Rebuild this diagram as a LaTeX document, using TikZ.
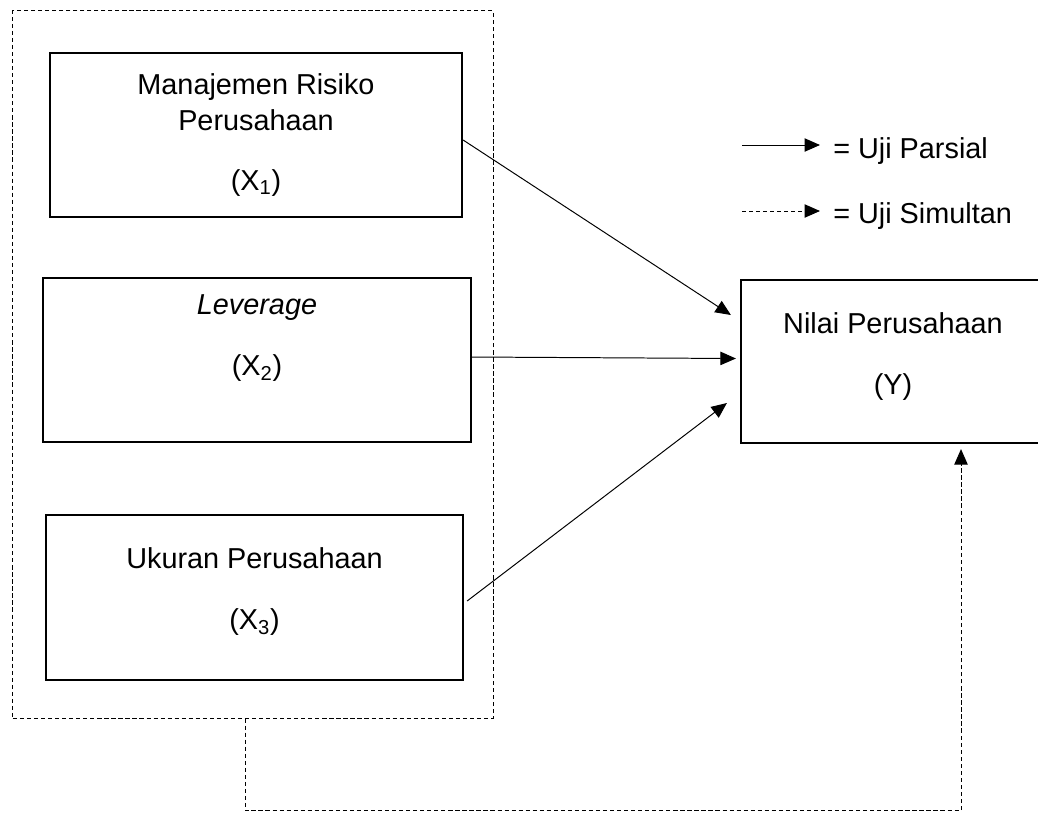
\documentclass[tikz,border=0pt]{standalone}
\usepackage{fontspec}
\setmainfont{Liberation Sans}
\usetikzlibrary{arrows.meta,calc}

\tikzset{
  varbox/.style={draw, line width=1.5pt, align=center, inner sep=0pt,
    font=\fontsize{20.5}{25.5}\selectfont},
  grpbox/.style={draw, line width=0.7pt, dash pattern=on 3pt off 2pt, inner sep=0pt},
  arr/.style={line width=0.7pt, -{Triangle[length=11pt, width=9.5pt]}},
  darr/.style={arr, dash pattern=on 3pt off 2pt},
  legtext/.style={anchor=base west, inner sep=0pt, font=\fontsize{20.5}{25.5}\selectfont},
}

\begin{document}
\begin{tikzpicture}[x=0.025cm, y=-0.025cm]
\useasboundingbox (0,0) rectangle (1038,812);

    % dashed group round the independent variables
    \node[grpbox, minimum width=12.0cm, minimum height=17.675cm] (grp) at (253,364.5) {};

    \node[varbox, minimum width=10.3cm, minimum height=4.1cm] (x1) at (256,135)
      {Manajemen Risiko\\Perusahaan\\[17pt](X\textsubscript{1})};
    \node[varbox, minimum width=10.7cm, minimum height=4.1cm] (x2) at (257,360)
      {\textit{Leverage}\\[18.5pt](X\textsubscript{2})\\[10pt]\mbox{}};
    \node[varbox, minimum width=10.425cm, minimum height=4.125cm] (x3) at (254.5,597.5)
      {Ukuran Perusahaan\\[18pt](X\textsubscript{3})\\[-13pt]\mbox{}};
    \node[varbox, minimum width=7.6cm, minimum height=4.075cm] (y) at (893,361.5)
      {Nilai Perusahaan\\[18pt](Y)\\[-14pt]\mbox{}};

    % legend
    \node[legtext] (parsial) at (833,158) {= Uji Parsial};
    \node[legtext] (simultan) at (833,223) {= Uji Simultan};
    \coordinate (ps) at (742,145);
    \coordinate (pe) at (820,145);
    \coordinate (ss) at (742,211);
    \coordinate (se) at (820,211);
    \draw[arr] (ps) -- (pe);
    \draw[darr] (ss) -- (se);

    % partial tests
    \draw[arr] ($(x1.east)+(0,5)$) -- ($(y.west)+(-9,-46.5)$);
    \draw[arr] ($(x2.east)+(0,-3)$) -- ($(y.west)+(-4,-3)$);
    \draw[arr] ($(x3.east)+(3,3.5)$) -- ($(y.west)+(-13,41.5)$);

    % simultaneous test
    \draw[darr] ($(grp.south)+(-8,0)$) -- ++(0,92) -| ($(y.south)+(68,5)$);

\end{tikzpicture}
\end{document}
